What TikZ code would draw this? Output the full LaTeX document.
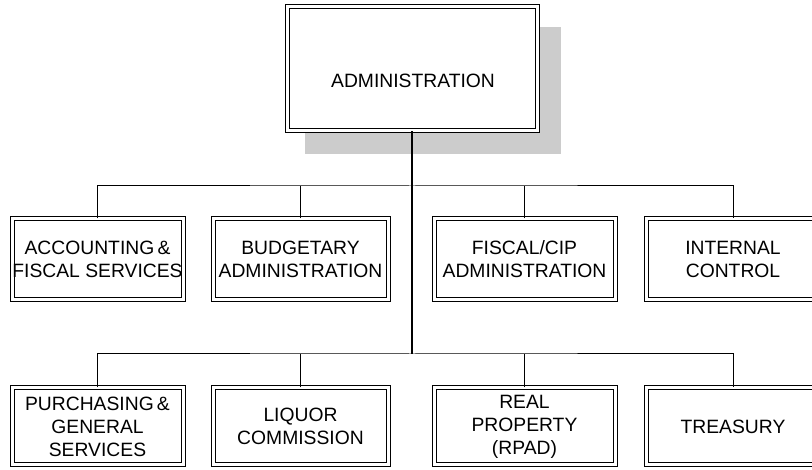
\documentclass[tikz,border=0pt]{standalone}
\usepackage{fontspec}
\setmainfont{Liberation Sans}
\begin{document}
\begin{tikzpicture}[x=1pt,y=-1pt,
  unit/.style={draw=black, double=white, double distance=3pt, line width=1pt,
    fill=white, inner sep=0pt, align=center,
    font=\fontsize{19.3}{23}\selectfont},
  row1/.style={unit, minimum height=81pt},
  row2/.style={unit, minimum height=77pt},
  link/.style={line width=1pt},
  trunk/.style={line width=1.6pt}]
\useasboundingbox (0,0) rectangle (812,470);
\clip (0,0) rectangle (812,470);
% shadow of the top box
\fill[black!20] (305,27) rectangle (561,154);
% top box
\node[unit, minimum width=250pt, minimum height=124pt] (admin) at (412,69) {};
\node[font=\fontsize{19.3}{23}\selectfont, inner sep=0pt] (admintext) at (413,81) {ADMINISTRATION};
% first row
\node[row1, minimum width=171pt] (a1) at (97.5,259.5) {ACCOUNTING\,\&\\FISCAL SERVICES};
\node[row1, minimum width=175pt] (a2) at (300.5,259.5) {BUDGETARY\\ADMINISTRATION};
\node[row1, minimum width=181pt] (a3) at (524.5,259.5) {FISCAL/CIP\\ADMINISTRATION};
\node[row1, minimum width=174pt] (a4) at (733,259.5) {INTERNAL\\CONTROL};
% second row
\node[row2, minimum width=171pt] (b1) at (97.5,426.5) {PURCHASING\,\&\\GENERAL\\SERVICES};
\node[row2, minimum width=175pt] (b2) at (300.5,426.5) {LIQUOR\\COMMISSION};
\node[row2, minimum width=181pt] (b3) at (524.5,426.5) {REAL\\PROPERTY\\(RPAD)};
\node[row2, minimum width=174pt] (b4) at (733,426.5) {TREASURY};
% buses
\coordinate (j1) at (412,186);
\coordinate (j2) at (412,354);
\draw[link] (a1.north) |- (j1) -| (a4.north);
\draw[link] (a2.north) -- (a2.north |- j1);
\draw[link] (a3.north) -- (a3.north |- j1);
\draw[link] (b1.north) |- (j2) -| (b4.north);
\draw[link] (b2.north) -- (b2.north |- j2);
\draw[link] (b3.north) -- (b3.north |- j2);
\draw[trunk] (admin.south) -- (j2);
\end{tikzpicture}
\end{document}
